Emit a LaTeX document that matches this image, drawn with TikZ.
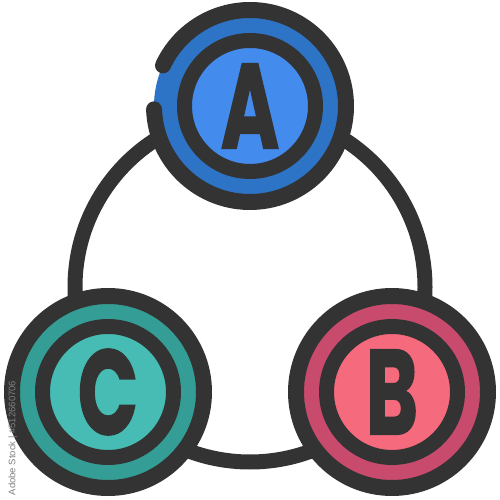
\documentclass[tikz,border=0pt]{standalone}
\usepackage{fontspec}
\newfontfamily\letterfont{Poppins}[BoldFeatures={FakeBold=1.6}]
\newfontfamily\markfont{Liberation Sans}
\definecolor{ink}{RGB}{51,51,51}
\definecolor{bandA}{RGB}{46,116,198}
\definecolor{coreA}{RGB}{67,139,236}
\definecolor{bandB}{RGB}{200,75,110}
\definecolor{coreB}{RGB}{246,106,126}
\definecolor{bandC}{RGB}{52,158,150}
\definecolor{coreC}{RGB}{70,188,180}
\begin{document}
\begin{tikzpicture}[x=1pt,y=1pt,
  link/.style={draw=ink,line width=15pt},
  outerring/.style={draw=ink,line width=16pt,line cap=round},
  innerring/.style={draw=ink,line width=15pt},
  letter/.style={text=ink,inner sep=0pt,xscale=0.66,font=\letterfont\bfseries\fontsize{120}{120}\selectfont},
  stockmark/.style={text=gray,inner sep=0pt,rotate=90,font=\markfont\fontsize{9.5}{10}\selectfont}]
\useasboundingbox (0,0) rectangle (500,500);
% connecting circle
\coordinate (O) at (250,213);
\draw[link] (O) circle[radius=175];
% circle A
\coordinate (cA) at (250,394);
\fill[bandA] (cA) circle[radius=96];
\fill[coreA] (cA) circle[radius=65.5];
\draw[innerring] (cA) circle[radius=65.5];
\draw[outerring] ([shift={(182:96)}]cA) arc[start angle=182,end angle=515,radius=96];
\node[letter] (A) at (cA) {A};
% circle B
\coordinate (cB) at (392,108);
\fill[bandB] (cB) circle[radius=96];
\fill[coreB] (cB) circle[radius=65.5];
\draw[innerring] (cB) circle[radius=65.5];
\draw[outerring] (cB) circle[radius=96];
\node[letter] (B) at (cB) {B};
% circle C
\coordinate (cC) at (108,108);
\fill[bandC] (cC) circle[radius=96];
\fill[coreC] (cC) circle[radius=65.5];
\draw[innerring] (cC) circle[radius=65.5];
\draw[outerring] (cC) circle[radius=96];
\node[letter] (C) at (cC) {C};
% stock mark
\node[stockmark] (wm) at (13,62) {Adobe Stock | \#512660706};
\end{tikzpicture}
\end{document}
